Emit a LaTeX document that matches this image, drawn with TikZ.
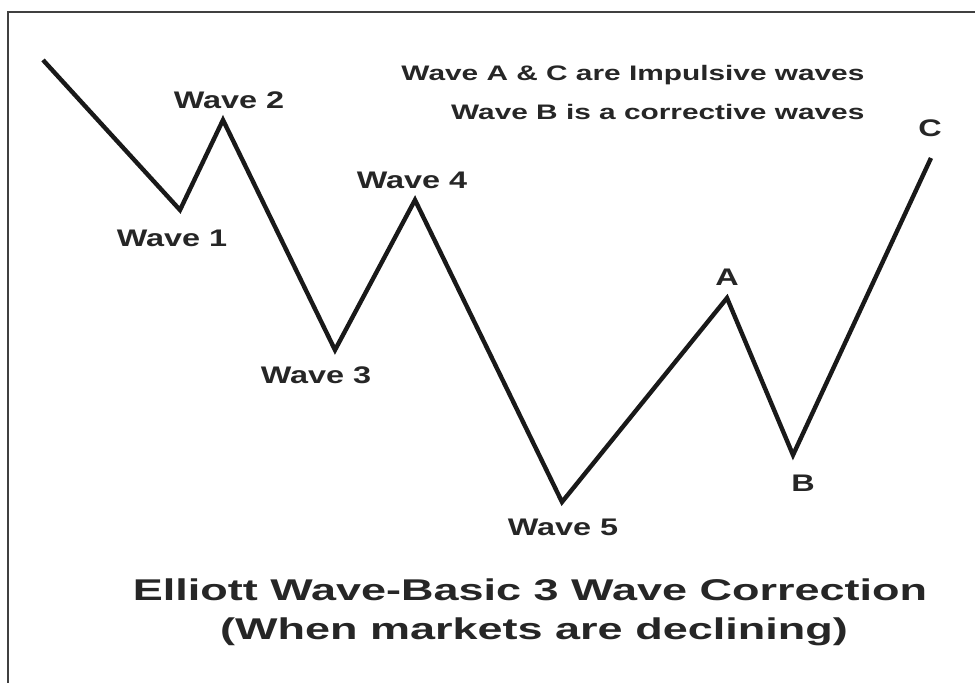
\documentclass[tikz,border=0pt]{standalone}
\usepackage{fontspec}
\setmainfont{Liberation Sans}
\usetikzlibrary{positioning}

\begin{document}
\begin{tikzpicture}[x=0.5pt, y=-0.5pt,
  every node/.style={text=black!85, inner sep=0pt},
  lbl/.style={font=\fontsize{12}{14}\selectfont\bfseries, xscale=1.35},
  note/.style={font=\fontsize{10.5}{12}\selectfont\bfseries, xscale=1.42, anchor=east},
  heading/.style={font=\fontsize{15}{18}\selectfont\bfseries, xscale=1.5},
  wave/.style={line width=2.2pt, line join=miter, black!90},
  frame/.style={line width=1pt, black!75}
]
  \useasboundingbox (0,0) rectangle (975,683);

  % Frame (top and left only)
  \draw[frame] (975,12) -- (8,12) -- (8,683);

  % Turning points of the wave
  \coordinate (w0) at (43,60);
  \coordinate (w1) at (180,210);
  \coordinate (w2) at (223,120);
  \coordinate (w3) at (335,350);
  \coordinate (w4) at (415,200);
  \coordinate (w5) at (562,502);
  \coordinate (wA) at (727,298);
  \coordinate (wB) at (793,455);
  \coordinate (wC) at (931,158);

  \draw[wave] (w0) -- (w1) -- (w2) -- (w3) -- (w4) -- (w5) -- (wA) -- (wB) -- (wC);

  % Wave labels
  \node[lbl] (l1) at (172,238) {Wave 1};
  \node[lbl] (l2) at (229,100) {Wave 2};
  \node[lbl] (l3) at (316,375) {Wave 3};
  \node[lbl] (l4) at (412,180) {Wave 4};
  \node[lbl] (l5) at (563,527) {Wave 5};
  \node[lbl] (lA) at (727,277) {A};
  \node[lbl] (lB) at (803,483) {B};
  \node[lbl] (lC) at (930,128) {C};

  % Notes
  \node[note] (n1) at (865,75)  {Wave A \& C are Impulsive waves};
  \node[note] (n2) at (865,112) {Wave B is a corrective waves};

  % Title
  \node[heading] (t1) at (530,590) {Elliott Wave-Basic 3 Wave Correction};
  \node[heading] (t2) at (534,632) {(When markets are declining)};
\end{tikzpicture}
\end{document}
